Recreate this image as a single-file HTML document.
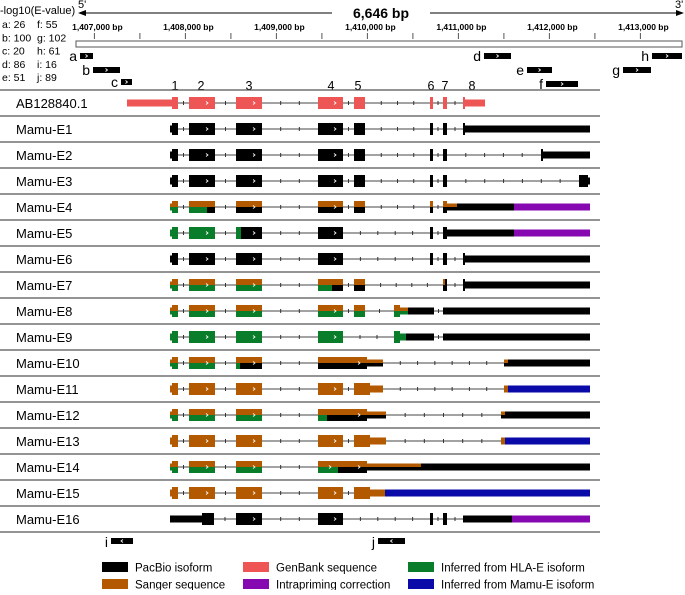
<!DOCTYPE html>
<html><head><meta charset="utf-8"><style>
html,body{margin:0;padding:0;background:#fff;}
svg text{font-family:"Liberation Sans",Arial,sans-serif;}
</style></head><body>
<svg id="fig" width="685" height="590" viewBox="0 0 685 590" xmlns="http://www.w3.org/2000/svg">
<g>
<text x="0" y="14" font-size="11">-log10(E-value)</text>
<text x="78" y="8" font-size="11">5'</text>
<text x="675" y="8" font-size="11">3'</text>
<line x1="80" y1="13" x2="332" y2="13" stroke="#000" stroke-width="1"/>
<line x1="430" y1="13" x2="682" y2="13" stroke="#000" stroke-width="1"/>
<polygon points="78,13 86,10 86,16" fill="#000"/>
<polygon points="684,13 676,10 676,16" fill="#000"/>
<text x="381" y="18" font-size="14" font-weight="bold" text-anchor="middle">6,646 bp</text>
<rect x="76" y="41" width="606" height="6" fill="#fff" stroke="#555" stroke-width="1"/>
</g>
<g id="ruler"></g>
<g id="evals"></g>
<g id="feats"></g>
<g id="rows"></g>
<g id="legend"></g>
</svg>
<script>
const NS="http://www.w3.org/2000/svg";
const tickLabels=["1,407,000 bp","1,408,000 bp","1,409,000 bp","1,410,000 bp","1,411,000 bp","1,412,000 bp","1,413,000 bp"];
const tickBp=[1407000,1408000,1409000,1410000,1411000,1412000,1413000];
const evalNames=["a","b","c","d","e","f","g","h","i","j"];
const evalValues=[26,100,20,86,51,55,102,61,16,89];
const featNames=["a","b","c","d","e","f","g","h","i","j"];
const featStart=[80,93,121,484,527,546,623,652,111,378];
const featEnd=[93,120,132,511,552,578,651,682,133,405];
const featY=[53,67,79,53,67,81,67,53,538,538];
const featDir=[1,1,1,1,1,1,1,1,-1,-1];
const exonNums=["1","2","3","4","5","6","7","8"];
const exonNumX=[175,201,249,331,358,431,445,472];
const rowNames=["AB128840.1","Mamu-E1","Mamu-E2","Mamu-E3","Mamu-E4","Mamu-E5","Mamu-E6","Mamu-E7","Mamu-E8","Mamu-E9","Mamu-E10","Mamu-E11","Mamu-E12","Mamu-E13","Mamu-E14","Mamu-E15","Mamu-E16"];
const COL={K:"#000000",B:"#b35900",R:"#ee5555",G:"#0a7d2a",P:"#8508b0",U:"#0a0aa8"};
const ex1=(t,b)=>[[170,172,0,t,b],[172,178,1,t,b]];
const rowSegs=[
 [[127,172,0,"R","R"],[172,178,1,"R","R"],[189,215,1,"R","R"],[236,262,1,"R","R"],[318,343,1,"R","R"],[354,365,1,"R","R"],[430,433,1,"R","R"],[443,447,1,"R","R"],[463,465,1,"R","R"],[465,485,0,"R","R"]],
 [...ex1("K","K"),[189,215,1,"K","K"],[236,262,1,"K","K"],[318,343,1,"K","K"],[354,365,1,"K","K"],[430,433,1,"K","K"],[443,447,1,"K","K"],[463,465,1,"K","K"],[465,590,0,"K","K"]],
 [...ex1("K","K"),[189,215,1,"K","K"],[236,262,1,"K","K"],[318,343,1,"K","K"],[354,365,1,"K","K"],[430,433,1,"K","K"],[443,447,1,"K","K"],[541,543,1,"K","K"],[543,590,0,"K","K"]],
 [...ex1("K","K"),[189,215,1,"K","K"],[236,262,1,"K","K"],[318,343,1,"K","K"],[354,365,1,"K","K"],[430,433,1,"K","K"],[443,447,1,"K","K"],[579,588,1,"K","K"],[588,590,0,"K","K"]],
 [...ex1("B","G"),[189,207,1,"B","G"],[207,215,1,"B","K"],[236,262,1,"B","K"],[318,343,1,"B","K"],[354,365,1,"B","K"],[430,433,1,"B","K"],[443,447,1,"B","K"],[447,457,0,"B","K"],[457,514,0,"K","K"],[514,590,0,"P","P"]],
 [...ex1("G","G"),[189,215,1,"G","G"],[236,241,1,"G","G"],[241,262,1,"K","K"],[318,343,1,"K","K"],[430,433,1,"K","K"],[443,447,1,"K","K"],[447,514,0,"K","K"],[514,590,0,"P","P"]],
 [...ex1("K","K"),[189,215,1,"K","K"],[236,262,1,"K","K"],[318,343,1,"K","K"],[430,433,1,"K","K"],[443,447,1,"K","K"],[463,465,1,"K","K"],[465,590,0,"K","K"]],
 [...ex1("B","G"),[189,215,1,"B","G"],[236,262,1,"B","G"],[318,332,1,"B","G"],[332,343,1,"B","K"],[354,365,1,"B","K"],[443,445,1,"B","K"],[445,447,1,"K","K"],[463,465,1,"K","K"],[465,590,0,"K","K"]],
 [...ex1("B","G"),[189,215,1,"B","G"],[236,262,1,"B","G"],[318,343,1,"B","G"],[354,365,1,"B","G"],[394,400,1,"B","G"],[400,408,0,"B","G"],[408,434,0,"K","K"],[443,590,0,"K","K"]],
 [...ex1("G","G"),[189,215,1,"G","G"],[236,262,1,"G","G"],[318,343,1,"G","G"],[394,400,1,"G","G"],[400,406,0,"G","G"],[406,434,0,"K","K"],[443,590,0,"K","K"]],
 [...ex1("B","G"),[189,215,1,"B","G"],[236,240,1,"B","G"],[240,262,1,"B","K"],[318,367,1,"B","K"],[367,383,0,"B","K"],[504,508,0,"B","K"],[508,590,0,"K","K"]],
 [...ex1("B","B"),[189,215,1,"B","B"],[236,262,1,"B","B"],[318,343,1,"B","B"],[354,370,1,"B","B"],[370,383,0,"B","B"],[504,508,0,"B","B"],[508,590,0,"U","U"]],
 [...ex1("B","G"),[189,215,1,"B","G"],[236,262,1,"B","G"],[318,327,1,"B","G"],[327,367,1,"B","K"],[367,386,0,"B","K"],[501,505,0,"B","K"],[505,590,0,"K","K"]],
 [...ex1("B","B"),[189,215,1,"B","B"],[236,262,1,"B","B"],[318,343,1,"B","B"],[354,370,1,"B","B"],[370,386,0,"B","B"],[501,505,0,"B","B"],[505,590,0,"U","U"]],
 [...ex1("B","G"),[189,215,1,"B","G"],[236,262,1,"B","G"],[318,338,1,"B","G"],[338,367,1,"B","K"],[367,421,0,"B","K"],[421,590,0,"K","K"]],
 [...ex1("B","B"),[189,215,1,"B","B"],[236,262,1,"B","B"],[318,343,1,"B","B"],[354,370,1,"B","B"],[370,385,0,"B","B"],[385,590,0,"U","U"]],
 [[170,202,0,"K","K"],[202,214,1,"K","K"],[236,262,1,"K","K"],[318,343,1,"K","K"],[430,433,1,"K","K"],[443,447,1,"K","K"],[463,512,0,"K","K"],[512,590,0,"P","P"]]
];
const legendLabels=["PacBio isoform","Sanger sequence","GenBank sequence","Intrapriming correction","Inferred from HLA-E isoform","Inferred from Mamu-E isoform"];
const legendColors=["K","B","R","P","G","U"];

const bpToX=bp=>94.4+(bp-1407000)*0.0910;
function mk(tag,attrs,parent){const e=document.createElementNS(NS,tag);for(const k in attrs)e.setAttribute(k,attrs[k]);parent.appendChild(e);return e;}
const ruler=document.getElementById("ruler");
tickBp.forEach((bp,i)=>{
 const x=bpToX(bp);
 const t=mk("line",{x1:x,y1:33,x2:x,y2:39,stroke:"#555"},ruler);
 
 
 const m=mk("line",{x1:x+45.5,y1:33,x2:x+45.5,y2:39,stroke:"#555"},ruler);
 
 
 const l=mk("text",{x:x+3,y:30,"font-size":"8.5","font-weight":"bold","text-anchor":"middle"},ruler);
 l.textContent=tickLabels[i];
 
 
});
const ev=document.getElementById("evals");
evalNames.forEach((n,i)=>{
 const col=Math.floor(i/5),r=i%5;
 const t=mk("text",{x:col?37:2,y:28+r*13.3,"font-size":"10.5"},ev);
 t.textContent=n+": "+evalValues[i];
 
 
});
const fg=document.getElementById("feats");
featNames.forEach((n,i)=>{
 const x1=featStart[i],x2=featEnd[i],y=featY[i];
 const r=mk("rect",{x:x1,y:y,width:x2-x1,height:6,fill:"#000"},fg);
 
 
 const cx=(x1+x2)/2,d=featDir[i];
 mk("polyline",{points:`${cx-d},${y+1.5} ${cx+d},${y+3} ${cx-d},${y+4.5}`,fill:"none",stroke:"#fff","stroke-width":"0.8"},fg);
 const l=mk("text",{x:x1-3,y:y+(i>=8?9:8),"font-size":"14","text-anchor":"end"},fg);
 l.textContent=n;
 
 
});
exonNums.forEach((n,i)=>{
 const t=mk("text",{x:exonNumX[i],y:90,"font-size":"12.5","text-anchor":"middle"},fg);
 t.textContent=n;
 
 
});
const rg=document.getElementById("rows");
for(let k=0;k<=rowNames.length;k++){
 const ln=mk("line",{x1:0,y1:90+26*k,x2:600,y2:90+26*k,stroke:"#555","stroke-width":"1.2"},rg);
 
 
}
rowNames.forEach((name,i)=>{
 const c=103+26*i;
 const g=mk("g",{},rg);
 
 
 const t=mk("text",{x:16,y:c+5,"font-size":"13"},g);
 t.textContent=name;
 
 
 const segs=rowSegs[i];
 const s0=segs[0][0],s1=segs[segs.length-1][1];
 const il=mk("line",{x1:s0,y1:c,x2:s1,y2:c,stroke:"#444","stroke-width":"1"},g);
 
 
 for(let j=0;j<segs.length-1;j++){
  const a=segs[j][1],b=segs[j+1][0];
  if(b-a<6)continue;
  const n=Math.max(1,Math.floor((b-a)/19.5));
  for(let q=1;q<=n;q++){
   const x=a+(b-a)*q/(n+1);
   mk("line",{x1:x,y1:c-2,x2:x,y2:c+2,stroke:"#333","stroke-width":"1"},g);
  }
 }
 segs.forEach(s=>{
  const [a,b,thick,top,bot]=s;
  const h=thick?6:3.5;
  const r1=mk("rect",{x:a,y:c-h,width:b-a,height:h,fill:COL[top]},g);
  
  
  const r2=mk("rect",{x:a,y:c,width:b-a,height:h,fill:COL[bot]},g);
  
  
  if(thick && b-a>=20){
   const cx=b-8;
   mk("polyline",{points:`${cx-1},${c-1.5} ${cx+1},${c} ${cx-1},${c+1.5}`,fill:"none",stroke:"#fff","stroke-width":"0.8"},g);
  }
 });
});
const lg=document.getElementById("legend");
legendLabels.forEach((lab,i)=>{
 const col=Math.floor(i/2),r=i%2;
 const sx=[102,243,408][col],y=562+r*17;
 const sw=mk("rect",{x:sx,y:y,width:26,height:10,fill:COL[legendColors[i]]},lg);
 
 
 const t=mk("text",{x:sx+33,y:y+9.5,"font-size":"11.5"},lg);
 t.textContent=lab;
 
 
});
</script>
</body></html>
